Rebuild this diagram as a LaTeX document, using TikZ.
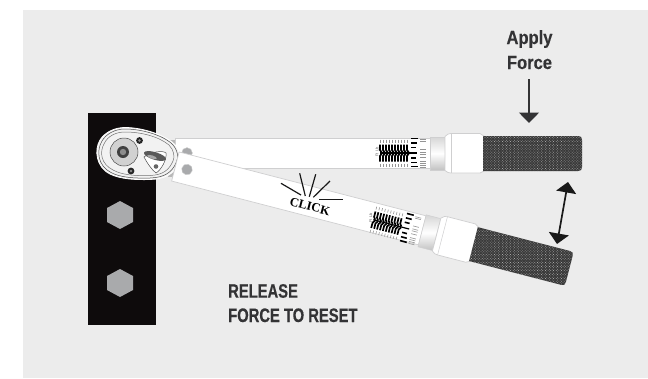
\documentclass[tikz,border=0pt]{standalone}
\usepackage{fontspec}
\usetikzlibrary{arrows.meta,patterns.meta,shadings}
\setmainfont{Liberation Sans}
\newfontfamily\labfont[UprightFont={* Bold},FakeStretch=0.757,FakeBold=0.4]{Liberation Sans}
\newfontfamily\applyfont[UprightFont={* Bold},FakeStretch=0.87,FakeBold=0.4]{Liberation Sans}
\newfontfamily\clickfont{Liberation Serif}
\definecolor{panelgray}{HTML}{ECECEC}
\definecolor{platek}{HTML}{0E0B0C}
\definecolor{hexgray}{HTML}{A9AAAC}
\definecolor{edgegray}{HTML}{CFCFD0}
\definecolor{inkdark}{HTML}{333335}
\tikzset{
  x=1pt,y=-1pt,
  hexbolt/.style={fill=hexgray,draw=none},
  bodyedge/.style={fill=white,draw=edgegray,line width=.7pt},
  griptex/.style={fill=black!78,draw=none},
  gripdots/.style={pattern={Dots[distance=1.9pt,radius=.5pt,angle=45]},pattern color=black!35},
  label/.style={font=\labfont\fontsize{19.5}{20}\selectfont,text=inkdark,inner sep=0pt},
  applylabel/.style={font=\applyfont\fontsize{19}{20}\selectfont,text=inkdark,inner sep=0pt},
  burst/.style={line width=1.2pt,black!90},
  arrowline/.style={line width=1.7pt,inkdark,-{Triangle[length=10.5pt,width=20pt]}},
  dblarrow/.style={line width=1.7pt,black!90,{Triangle[length=10.5pt,width=20pt]}-{Triangle[length=10.5pt,width=20pt]}},
  tickg/.style={line width=.6pt,black!42},
  tickk/.style={line width=1.6pt,black},
}
\newcommand{\wrenchbody}[1]{%
  % shaft
  \path[bodyedge] (-12,-15) -- (243,-15) -- (243,15) -- (-12,15) -- cycle;
  % collar
  \shade[top color=black!16,bottom color=black!24,middle color=white,draw=edgegray,line width=.5pt]
     (243,-16) rectangle (258,17);
  % sleeve
  \path[bodyedge] (258,-16.5) .. controls (260,-19) and (262,-19.5) .. (264,-19.5) -- (293,-19.5)
     .. controls (295,-18) and (296,-17.5) .. (297,-17) -- (297,18) .. controls (295,18.5) and (294,20) .. (293,20)
     -- (264,20) .. controls (262,20) and (260,19.5) .. (258,17.5) -- cycle;
  \draw[edgegray,line width=.5pt] (264,-19.5) -- (264,20);
  % grip
  \path[griptex] (296,-17) -- (391,-17) .. controls (394,-17) and (395,-16) .. (395,-13)
     -- (395,14) .. controls (395,17) and (394,18) .. (391,18) -- (296,18) -- cycle;
  \path[gripdots] (296,-17) -- (391,-17) .. controls (394,-17) and (395,-16) .. (395,-13)
     -- (395,14) .. controls (395,17) and (394,18) .. (391,18) -- (296,18) -- cycle;
  % scale
  \begin{scope}[yshift=#1]
  \foreach \a in {193,196,...,222}{
    \draw[tickg] (\a,-13.5) -- (\a,-10.5);
    \draw[tickg] (\a,10.5) -- (\a,13.5);
    \draw[line width=1.7pt,black] (\a,-8.5) -- (\a,-3) -- (\a+1.8,-.5);
    \draw[line width=1.7pt,black] (\a,8.5) -- (\a,3) -- (\a+1.8,.5);
  }
  \draw[line width=1.2pt,black] (193,0) -- (230,0);
  \foreach \b/\c in {-14.5/231,-10/230,-5.5/229,5/229,9.5/230,13.5/231}{
    \draw[tickk] (224,\b) -- (\c,\b);
  }
  \foreach \b in {-13.5,-12,-4,-1,1,4,8,10,12,14}{
    \draw[tickg] (233,\b) -- (239,\b);
  }
  \node[rotate=90,font=\fontsize{4}{4}\selectfont,text=black!60,inner sep=0pt] at (190,-1) {Ft Lb};
  \end{scope}
  % pivot hole
  \path[fill=hexgray,draw=edgegray,line width=.4pt] (0,0) circle (5.4);
}
\begin{document}
\begin{tikzpicture}
\useasboundingbox (0,0) rectangle (648,378);
\fill[panelgray] (23,10) rectangle (648,378);
% plate and hex bolts
\fill[platek] (88,113) rectangle (156,325);
\path[hexbolt] (120,201) -- (133,208) -- (133,222) -- (120,229) -- (107,222) -- (107,208) -- cycle;
\path[hexbolt] (120,269) -- (133,276) -- (133,290) -- (120,297) -- (107,290) -- (107,276) -- cycle;
% upper wrench
\begin{scope}[shift={(187,153)}]
  \wrenchbody{0pt}
\end{scope}
% joints behind head
\fill[black!28] (168,140) rectangle (175,147);
\fill[black!28] (168,170) rectangle (175,177);
% head
\path[fill=black!5,draw=white,line width=.8pt]
  (125,127.5) .. controls (140,127.5) and (160,133) .. (172,142) .. controls (180,148) and (181,158) .. (178,164)
  .. controls (174,174) and (165,179) .. (150,179.5) .. controls (135,180) and (120,179) .. (110,174)
  .. controls (96,167) and (94,150) .. (100,140) .. controls (105,132) and (115,127.5) .. (125,127.5) -- cycle;
\draw[black!70,line width=.5pt]
  (125,129) .. controls (140,129) and (160,134) .. (171,143) .. controls (178,149) and (179,158) .. (176,163)
  .. controls (172,172) and (165,177.5) .. (150,178) .. controls (135,178.5) and (120,177.5) .. (111,172.5)
  .. controls (98,166) and (96,151) .. (102,141) .. controls (106,134) and (115,129) .. (125,129) -- cycle;
\draw[black!55,line width=.5pt]
  (125,132) .. controls (140,132) and (158,136) .. (169,145) .. controls (174,150) and (175,157) .. (173,161)
  .. controls (169,170) and (163,175) .. (150,175.5) .. controls (135,176) and (122,175) .. (113,170)
  .. controls (101,164) and (99,152) .. (104.5,143) .. controls (108,136) and (116,132) .. (125,132) -- cycle;
% ratchet
\path[fill=black!18,draw=black!70,line width=.5pt] (124,152) circle (14);
\fill[black!75] (123,152) circle (6);
\fill[black!45] (123,152) circle (3.2);
\foreach \p in {(139.5,140.5),(131,171)}{
  \fill[black!85] \p circle (3.4);
  \fill[black!45] \p circle (1.3);
}
% lever
\path[fill=white,draw=black!70,line width=.5pt] (144,157) .. controls (150,152) and (163,150) .. (166,153)
  .. controls (167,160) and (161,170) .. (156,173) .. controls (152,170) and (147,163) .. (144,157) -- cycle;
\fill[black!65,rotate around={-17:(155,156)}] (155,156) ellipse (11.5 and 3.8);
\fill[black!35,rotate around={-17:(152,157)}] (152,157) ellipse (5 and 1.6);
\fill[black!60] (156,166.5) circle (2.3);
% lower wrench
\begin{scope}[shift={(187,169.5)},rotate=-14.5]
  \wrenchbody{-2pt}
\end{scope}
% click
\draw[burst] (281,183.3) -- (301,195);
\draw[burst] (299.7,173.3) -- (305.3,196);
\draw[burst] (315.7,174.3) -- (309.3,196.7);
\draw[burst] (330,181) -- (313.3,197.3);
\draw[burst] (319.3,199.3) -- (342.7,199.3);
\node (click) [rotate=-14.5,font=\clickfont\bfseries\fontsize{12.5}{12.5}\selectfont,text=black,inner sep=0pt] at (310,206.5) {CLICK};
% labels
\node (apply) [applylabel,anchor=base] at (529.5,44) {Apply};
\node (force) [applylabel,anchor=base] at (529.5,69) {Force};
\coordinate (pushtop) at (529,79);
\coordinate (pushtip) at (529,123);
\draw[arrowline] (pushtop) -- (pushtip);
\coordinate (swingtop) at (568,182);
\coordinate (swingbot) at (557,244);
\draw[dblarrow] (swingtop) -- (swingbot);
\node (release) [label,anchor=base west] at (228,297.7) {RELEASE};
\node (reset) [label,anchor=base west] at (228,322) {FORCE TO RESET};
\end{tikzpicture}
\end{document}
